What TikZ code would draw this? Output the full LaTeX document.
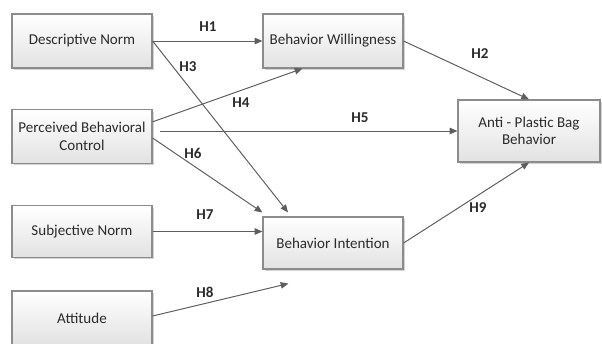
\documentclass[tikz,border=0pt]{standalone}
\usepackage{fontspec}
\setmainfont{Carlito}
\usepackage{tikz}
\usetikzlibrary{positioning,arrows.meta,calc,shadows}

\definecolor{boxline}{HTML}{8C8C8C}
\definecolor{boxlow}{HTML}{E2E2E2}
\definecolor{pathgray}{HTML}{5E5E5E}
\definecolor{txtgray}{HTML}{2B2B2B}

\tikzset{
  construct/.style={draw=boxline, line width=0.8pt, top color=white, bottom color=boxlow,
    minimum width=3.5cm, minimum height=1.35cm, inner sep=1pt, align=center, text=txtgray,
    drop shadow={shadow xshift=1.2pt, shadow yshift=-1.2pt, opacity=0.35}},
  hypo/.style={draw=pathgray, line width=0.7pt, -{Triangle[length=5.5pt,width=4.6pt]}},
  hyp/.style={font=\fontsize{10.7}{12.5}\selectfont\bfseries, text=txtgray}
}

\begin{document}
\begin{tikzpicture}[x=0.025cm, y=-0.025cm, font=\fontsize{10.7}{12.5}\selectfont]
\clip (0,0) rectangle (602,343);

% Constructs
\node[construct] (dn) at (82,41) {Descriptive Norm};
\node[construct, minimum height=1.33cm] (pbc) at (82,136.5) {Perceived Behavioral\\Control};
\node[construct, minimum height=1.28cm] (sn) at (82,231.5) {Subjective Norm};
\node[construct] (att) at (82,318) {Attitude};
\node[construct] (bw) at (333,41) {Behavior Willingness};
\node[construct, minimum height=1.3cm] (bi) at (333,243) {Behavior Intention};
\node[construct, minimum width=3.55cm, minimum height=1.55cm] (anti) at (529,131) {Anti - Plastic Bag\\Behavior};

\coordinate (h8end) at ($(bi.south west)+(26,14)$);

% Hypotheses
\draw[hypo] (dn.east) -- (bw.west);
\draw[hypo] (bw.east) -- (anti.north);
\draw[hypo] (dn.east) -- ([xshift=0.64cm,yshift=0.1cm]bi.north west);
\draw[hypo] ($(pbc.north east)!0.23!(pbc.south east)$) -- ([xshift=1cm]bw.south west);
\draw[hypo] ($(pbc.east |- anti.west)+(7,0)$) -- (anti.west);
\draw[hypo] ($(pbc.east)+(0,1.5)$) -- ([yshift=0.1cm]bi.north west);
\draw[hypo] (sn.east) -- (sn.east -| bi.west);
\draw[hypo] ($(att.east)+(0,-2)$) -- (h8end);
\draw[hypo] (bi.east) -- (anti.south);

% Labels
\node[hyp] (lh1) at (208,27) {H1};
\node[hyp] (lh2) at (480,54) {H2};
\node[hyp] (lh3) at (188,67) {H3};
\node[hyp] (lh4) at (241,103) {H4};
\node[hyp] (lh5) at (360,118) {H5};
\node[hyp] (lh6) at (193,153) {H6};
\node[hyp] (lh7) at (205,215) {H7};
\node[hyp] (lh8) at (205,292) {H8};
\node[hyp] (lh9) at (478,208) {H9};
\end{tikzpicture}
\end{document}
